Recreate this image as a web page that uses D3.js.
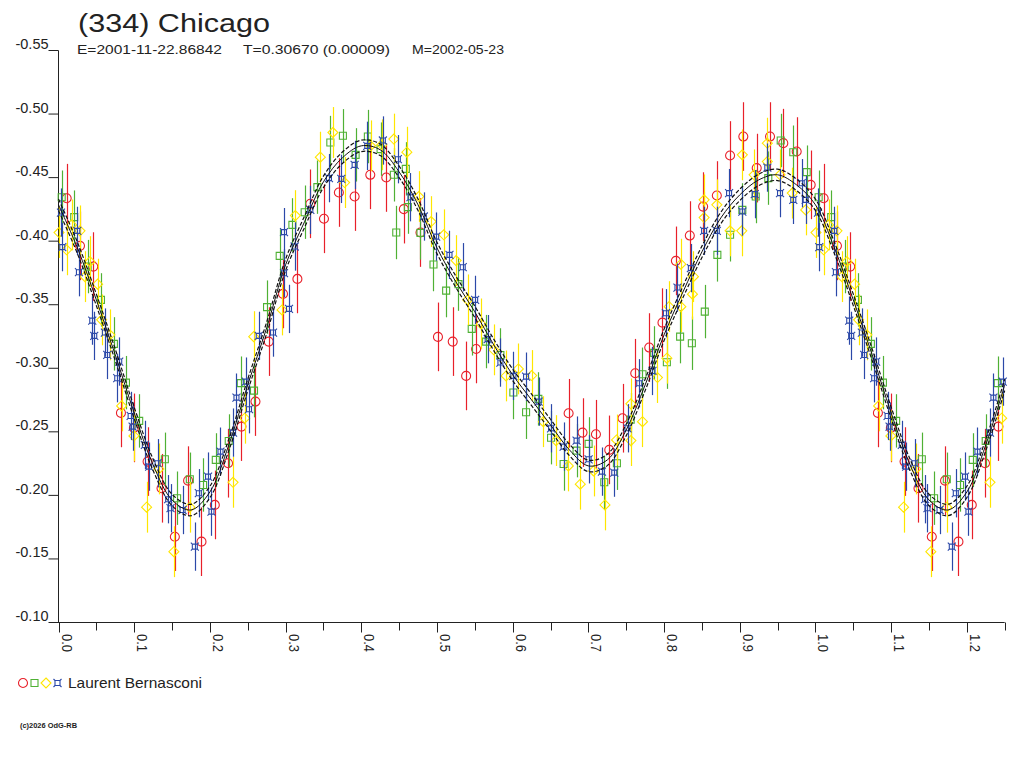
<!DOCTYPE html>
<html>
<head>
<meta charset="utf-8">
<script src="https://cdn.jsdelivr.net/npm/d3@7"></script>
<style>
  body { margin: 0; background: #fff; }
  svg { display: block; }
  text { font-family: "Liberation Sans", Arial, sans-serif; fill: #222; }
</style>
</head>
<body>
<svg id="chart" width="1024" height="768"></svg>
<script>
// Lightcurve of (334) Chicago, folded on phase
const titleText = "(334) Chicago";
const epochText = "E=2001-11-22.86842";
const periodText = "T=0.30670 (0.00009)";
const midText = "M=2002-05-23";
const observer = "Laurent Bernasconi";
const copyright = "(c)2026 OdG-RB";

const yTicks = [-0.55, -0.50, -0.45, -0.40, -0.35, -0.30, -0.25, -0.20, -0.15, -0.10];
const yTickLabels = ["-0.55", "-0.50", "-0.45", "-0.40", "-0.35", "-0.30", "-0.25", "-0.20", "-0.15", "-0.10"];
const xMajor = [0.0, 0.1, 0.2, 0.3, 0.4, 0.5, 0.6, 0.7, 0.8, 0.9, 1.0, 1.1, 1.2];
const xMajorLabels = ["0.0", "0.1", "0.2", "0.3", "0.4", "0.5", "0.6", "0.7", "0.8", "0.9", "1.0", "1.1", "1.2"];
const xMinor = [0.05, 0.15, 0.25, 0.35, 0.45, 0.55, 0.65, 0.75, 0.85, 0.95, 1.05, 1.15, 1.25];

// error bar half sizes per session (mag)
const errRed = 0.027, errGreen = 0.021, errYellow = 0.020, errBlue = 0.019;

// [phase, mag] for each session, one period (0..1)
const redPts = [
  [0.0108,-0.4338],[0.0284,-0.3963],[0.0459,-0.3800],[0.0825,-0.2649],[0.0996,-0.2531],
  [0.1177,-0.2266],[0.1361,-0.2056],[0.1537,-0.1675],[0.1712,-0.2116],[0.1889,-0.1636],
  [0.2065,-0.1925],[0.2240,-0.2253],[0.2417,-0.2541],[0.2602,-0.2738],[0.2777,-0.3210],
  [0.2966,-0.3585],[0.3156,-0.3703],[0.3327,-0.4294],[0.3507,-0.4176],[0.3704,-0.4383],
  [0.3912,-0.4351],[0.4119,-0.4522],[0.4330,-0.4501],[0.4562,-0.4252],[0.4782,-0.4068],
  [0.5013,-0.3247],[0.5208,-0.3210],[0.5385,-0.2940],[0.5517,-0.3152],[0.6739,-0.2646],
  [0.6923,-0.2494],[0.7100,-0.2481],[0.7276,-0.2358],[0.7451,-0.2607],[0.7619,-0.2961],
  [0.7804,-0.3163],[0.7979,-0.3359],[0.8156,-0.3845],[0.8340,-0.4044],[0.8516,-0.4272],
  [0.8697,-0.4359],[0.8872,-0.4674],[0.9047,-0.4823],[0.9224,-0.4575],[0.9400,-0.4823],
  [0.9575,-0.4771],[0.9752,-0.4705],[0.9937,-0.4443]
];
const greenPts = [
  [0.0042,-0.4346],[0.0208,-0.4189],[0.0385,-0.3800],[0.0561,-0.3538],[0.0732,-0.3192],
  [0.0891,-0.2887],[0.1066,-0.2586],[0.1405,-0.2284],[0.1567,-0.1978],[0.1735,-0.2127],
  [0.1910,-0.2082],[0.2078,-0.2279],[0.2249,-0.2428],[0.2408,-0.2883],[0.2583,-0.2824],
  [0.2755,-0.3481],[0.2922,-0.3884],[0.3090,-0.4128],[0.3252,-0.4228],[0.3420,-0.4425],
  [0.3591,-0.4776],[0.3757,-0.4829],[0.3925,-0.4679],[0.4087,-0.4823],[0.4255,-0.4724],
  [0.4430,-0.4522],[0.4462,-0.4068],[0.4588,-0.4569],[0.4615,-0.4268],[0.4782,-0.4065],
  [0.4954,-0.3816],[0.5121,-0.3611],[0.5284,-0.3662],[0.5459,-0.3310],[0.5649,-0.3210],
  [0.5838,-0.3105],[0.6009,-0.2809],[0.6177,-0.2654],[0.6339,-0.2759],[0.6507,-0.2454],
  [0.6673,-0.2247],[0.6844,-0.2352],[0.7003,-0.2405],[0.7210,-0.2103],[0.7377,-0.2253],
  [0.7559,-0.2596],[0.7715,-0.2953],[0.7869,-0.3121],[0.8037,-0.3048],[0.8212,-0.3249],
  [0.8367,-0.3197],[0.8538,-0.3446],[0.8704,-0.3892],[0.8872,-0.4050],[0.9034,-0.4246],
  [0.9211,-0.4351],[0.9377,-0.4496],[0.9541,-0.4792],[0.9707,-0.4700],[0.9884,-0.4543]
];
const yellowPts = [
  [0.0007,-0.4068],[0.0108,-0.3932],[0.0174,-0.4128],[0.0284,-0.4081],[0.0350,-0.3721],
  [0.0416,-0.3839],[0.0517,-0.3662],[0.0570,-0.3381],[0.0679,-0.3263],[0.0834,-0.2704],
  [0.0996,-0.2468],[0.1164,-0.1907],[0.1326,-0.2208],[0.1524,-0.1557],[0.1735,-0.1907],
  [0.2306,-0.2103],[0.2460,-0.2607],[0.2579,-0.3249],[0.2953,-0.3459],[0.3129,-0.4201],
  [0.3459,-0.4661],[0.3625,-0.4855],[0.3780,-0.4461],[0.4123,-0.4750],[0.4272,-0.4758],
  [0.4430,-0.4803],[0.4602,-0.4700],[0.4760,-0.4351],[0.4923,-0.4154],[0.5090,-0.4050],
  [0.5253,-0.3847],[0.5406,-0.3538],[0.5583,-0.3349],[0.5749,-0.3145],[0.5913,-0.2940],
  [0.6075,-0.2995],[0.6251,-0.2943],[0.6405,-0.2580],[0.6573,-0.2431],[0.6735,-0.2232],
  [0.6893,-0.2088],[0.7069,-0.2192],[0.7219,-0.1925],[0.7372,-0.2436],[0.7562,-0.2720],
  [0.7562,-0.2431],[0.7715,-0.2580],[0.7913,-0.2927],[0.8037,-0.3079],[0.8067,-0.3485],
  [0.8222,-0.3485],[0.8222,-0.3819],[0.8375,-0.3583],[0.8388,-0.3721],[0.8529,-0.4325],
  [0.8529,-0.4186],[0.8697,-0.4286],[0.8872,-0.4081],[0.9034,-0.4679],[0.9026,-0.4081],
  [0.9189,-0.4522],[0.9364,-0.4771],[0.9364,-0.4626],[0.9532,-0.4522],[0.9694,-0.4378],
  [0.9871,-0.4246]
];
const bluePts = [
  [0.0033,-0.4225],[0.0050,-0.3953],[0.0248,-0.4081],[0.0270,-0.3756],[0.0446,-0.3375],
  [0.0472,-0.3255],[0.0613,-0.3281],[0.0644,-0.3105],[0.0802,-0.3053],[0.0776,-0.2922],
  [0.0953,-0.2625],[0.0979,-0.2541],[0.1141,-0.2397],[0.1198,-0.2226],[0.1309,-0.2253],
  [0.1449,-0.1970],[0.1480,-0.1899],[0.1639,-0.1885],[0.1801,-0.1597],[0.1854,-0.2017],
  [0.1976,-0.2148],[0.2021,-0.1872],[0.2140,-0.2344],[0.2306,-0.2494],[0.2351,-0.2769],
  [0.2474,-0.2895],[0.2517,-0.2678],[0.2645,-0.3255],[0.2834,-0.3281],[0.2979,-0.3748],
  [0.2979,-0.4071],[0.3045,-0.3467],[0.3120,-0.3958],[0.3327,-0.4246],[0.3573,-0.4496],
  [0.3736,-0.4490],[0.3912,-0.4600],[0.4079,-0.4750],[0.4285,-0.4792],[0.4483,-0.4645],
  [0.4650,-0.4346],[0.4826,-0.4194],[0.4989,-0.4036],[0.5165,-0.3892],[0.5340,-0.3795],
  [0.5504,-0.3538],[0.5670,-0.3229],[0.5838,-0.3045],[0.6009,-0.2940],[0.6177,-0.2934],
  [0.6343,-0.2738],[0.6507,-0.2528],[0.6673,-0.2384],[0.6844,-0.2431],[0.7003,-0.2284],
  [0.7179,-0.2187],[0.7342,-0.2179],[0.7517,-0.2528],[0.7672,-0.2882],[0.7847,-0.2979],
  [0.8024,-0.3433],[0.8177,-0.3635],[0.8354,-0.3788],[0.8529,-0.4081],[0.8697,-0.4081],
  [0.8859,-0.4378],[0.9034,-0.4233],[0.9198,-0.4370],[0.9364,-0.4579],[0.9532,-0.4378],
  [0.9707,-0.4325],[0.9818,-0.4456],[0.9871,-0.4325]
];

// Fitted curve and its +/- band, sampled every 0.025 in phase
const fitPhase = [0.000,0.025,0.050,0.075,0.100,0.125,0.150,0.175,0.200,0.225,0.250,0.275,0.300,0.325,
  0.350,0.375,0.400,0.425,0.450,0.475,0.500,0.525,0.550,0.575,0.600,0.625,0.650,0.675,
  0.700,0.725,0.750,0.775,0.800,0.825,0.850,0.875,0.900,0.925,0.950,0.975,1.000];
const fitMag = [-0.4286,-0.3947,-0.3538,-0.3105,-0.2649,-0.2240,-0.1964,-0.1885,-0.2027,-0.2397,
  -0.2869,-0.3318,-0.3814,-0.4152,-0.4467,-0.4656,-0.4750,-0.4719,-0.4545,-0.4286,
  -0.3947,-0.3680,-0.3444,-0.3184,-0.2948,-0.2751,-0.2554,-0.2358,-0.2232,-0.2279,
  -0.2515,-0.2869,-0.3263,-0.3601,-0.3916,-0.4183,-0.4364,-0.4482,-0.4522,-0.4443,-0.4286];
const fitUpper = [-0.4331,-0.3992,-0.3583,-0.3150,-0.2694,-0.2285,-0.2009,-0.1930,-0.2072,-0.2442,
  -0.2914,-0.3363,-0.3859,-0.4197,-0.4512,-0.4701,-0.4795,-0.4764,-0.4590,-0.4331,
  -0.3992,-0.3725,-0.3489,-0.3229,-0.2993,-0.2796,-0.2599,-0.2403,-0.2277,-0.2324,
  -0.2560,-0.2914,-0.3308,-0.3646,-0.3961,-0.4228,-0.4409,-0.4527,-0.4567,-0.4488,-0.4331];
const fitLower = [-0.4241,-0.3902,-0.3493,-0.3060,-0.2604,-0.2195,-0.1919,-0.1840,-0.1982,-0.2352,
  -0.2824,-0.3273,-0.3769,-0.4107,-0.4422,-0.4611,-0.4705,-0.4674,-0.4500,-0.4241,
  -0.3902,-0.3635,-0.3399,-0.3139,-0.2903,-0.2706,-0.2509,-0.2313,-0.2187,-0.2234,
  -0.2470,-0.2824,-0.3218,-0.3556,-0.3871,-0.4138,-0.4319,-0.4437,-0.4477,-0.4398,-0.4241];

const phaseMax = 1.25;

const svg = d3.select("#chart");
const x = d3.scaleLinear().domain([0, phaseMax]).range([58.5, 1004.7]);
const y = d3.scaleLinear().domain([-0.55, -0.10]).range([50.5, 622.5]);

// repeat the start of the period after phase 1 so the plot runs to 1.25
function wrap(pts) {
  const extra = pts.filter(d => d[0] + 1 <= phaseMax).map(d => [d[0] + 1, d[1]]);
  return pts.concat(extra);
}
function curvePts(mags) {
  const base = fitPhase.map((p, i) => [p, mags[i]]);
  const extra = base.filter(d => d[0] > 0 && d[0] + 1 <= phaseMax).map(d => [d[0] + 1, d[1]]);
  return base.concat(extra);
}

// Sessions: colour + marker shape
const series = [
  { pts: redPts, err: errRed, color: "#e8202a", shape: "circle" },
  { pts: greenPts, err: errGreen, color: "#4fb134", shape: "square" },
  { pts: yellowPts, err: errYellow, color: "#ffe600", shape: "diamond" },
  { pts: bluePts, err: errBlue, color: "#2b48a8", shape: "boxcross" }
];

const shapes = {
  circle: "M4.5,0A4.5,4.5 0 1,1 -4.5,0A4.5,4.5 0 1,1 4.5,0Z",
  square: "M-3.5,-3.5H3.5V3.5H-3.5Z",
  diamond: "M0,-5L5,0L0,5L-5,0Z",
  // small box with ticks out of each corner
  boxcross: "M-2.5,-2.5H2.5V2.5H-2.5Z M-2.5,-2.5L-4,-4 M2.5,-2.5L4,-4 M2.5,2.5L4,4 M-2.5,2.5L-4,4"
};

// Axes
const axis = svg.append("g").attr("stroke", "#222").attr("stroke-width", 1);
axis.append("line").attr("x1", x(0)).attr("x2", x(0)).attr("y1", y(-0.55)).attr("y2", y(-0.10));
axis.append("line").attr("x1", x(0) - 10).attr("x2", x(phaseMax)).attr("y1", y(-0.10)).attr("y2", y(-0.10));
axis.selectAll(".yt").data(yTicks.slice(0, -1)).enter().append("line")
  .attr("x1", x(0) - 10).attr("x2", x(0)).attr("y1", d => y(d)).attr("y2", d => y(d));
axis.selectAll(".xM").data(xMajor).enter().append("line")
  .attr("x1", d => Math.round(x(d)) + 0.5).attr("x2", d => Math.round(x(d)) + 0.5)
  .attr("y1", y(-0.10)).attr("y2", y(-0.10) + 10);
axis.selectAll(".xm").data(xMinor).enter().append("line")
  .attr("x1", d => Math.round(x(d)) + 0.5).attr("x2", d => Math.round(x(d)) + 0.5)
  .attr("y1", y(-0.10)).attr("y2", y(-0.10) + 8);

svg.selectAll(".ylab").data(yTicks).enter().append("text")
  .attr("x", 48.5).attr("y", d => y(d) - 1.5)
  .attr("text-anchor", "end").attr("font-size", 14)
  .attr("textLength", 33).attr("lengthAdjust", "spacingAndGlyphs")
  .text((d, i) => yTickLabels[i]);

svg.selectAll(".xlab").data(xMajor).enter().append("text")
  .attr("transform", d => `translate(${Math.round(x(d)) + 2.5},634) rotate(90)`)
  .attr("font-size", 15)
  .attr("textLength", 18).attr("lengthAdjust", "spacingAndGlyphs")
  .text((d, i) => xMajorLabels[i]);

// Data: error bars then markers, one session after another
const plot = svg.append("g");
series.forEach(s => {
  const pts = wrap(s.pts);
  const g = plot.append("g");
  g.selectAll("line").data(pts).enter().append("line")
    .attr("x1", d => Math.round(x(d[0])) + 0.5).attr("x2", d => Math.round(x(d[0])) + 0.5)
    .attr("y1", d => y(d[1] - s.err)).attr("y2", d => y(d[1] + s.err))
    .attr("stroke", s.color).attr("stroke-width", 1.2);
  g.selectAll("path").data(pts).enter().append("path")
    .attr("d", shapes[s.shape])
    .attr("transform", d => `translate(${x(d[0])},${y(d[1])})`)
    .attr("fill", "none").attr("stroke", s.color).attr("stroke-width", 1.1);
});

// Fitted curve
const line = d3.line().x(d => x(d[0])).y(d => y(d[1])).curve(d3.curveCatmullRom);
svg.append("path").datum(curvePts(fitUpper)).attr("d", line)
  .attr("fill", "none").attr("stroke", "#111").attr("stroke-width", 1.2).attr("stroke-dasharray", "4,2");
svg.append("path").datum(curvePts(fitLower)).attr("d", line)
  .attr("fill", "none").attr("stroke", "#111").attr("stroke-width", 1.2).attr("stroke-dasharray", "4,2");
svg.append("path").datum(curvePts(fitMag)).attr("d", line)
  .attr("fill", "none").attr("stroke", "#111").attr("stroke-width", 1);

// Title block
svg.append("text").attr("x", 78).attr("y", 32).attr("font-size", 26)
  .attr("textLength", 192).attr("lengthAdjust", "spacingAndGlyphs").text(titleText);
svg.append("text").attr("x", 77).attr("y", 54).attr("font-size", 13)
  .attr("textLength", 145).attr("lengthAdjust", "spacingAndGlyphs").text(epochText);
svg.append("text").attr("x", 243).attr("y", 54).attr("font-size", 13)
  .attr("textLength", 147).attr("lengthAdjust", "spacingAndGlyphs").text(periodText);
svg.append("text").attr("x", 412).attr("y", 54).attr("font-size", 13)
  .attr("textLength", 92).attr("lengthAdjust", "spacingAndGlyphs").text(midText);

// Legend
const legendShapes = [[23, "circle", 0], [34.5, "square", 1], [46, "diamond", 2], [57.5, "boxcross", 3]];
svg.selectAll(".leg").data(legendShapes).enter().append("path")
  .attr("d", d => shapes[d[1]])
  .attr("transform", d => `translate(${d[0]},683)`)
  .attr("fill", "none").attr("stroke", d => series[d[2]].color).attr("stroke-width", 1.1);
svg.append("text").attr("x", 68).attr("y", 688).attr("font-size", 15)
  .attr("textLength", 134).attr("lengthAdjust", "spacingAndGlyphs").text(observer);

svg.append("text").attr("x", 20).attr("y", 728).attr("font-size", 7.5).attr("font-weight", "bold")
  .attr("textLength", 57).attr("lengthAdjust", "spacingAndGlyphs").text(copyright);
</script>
</body>
</html>
